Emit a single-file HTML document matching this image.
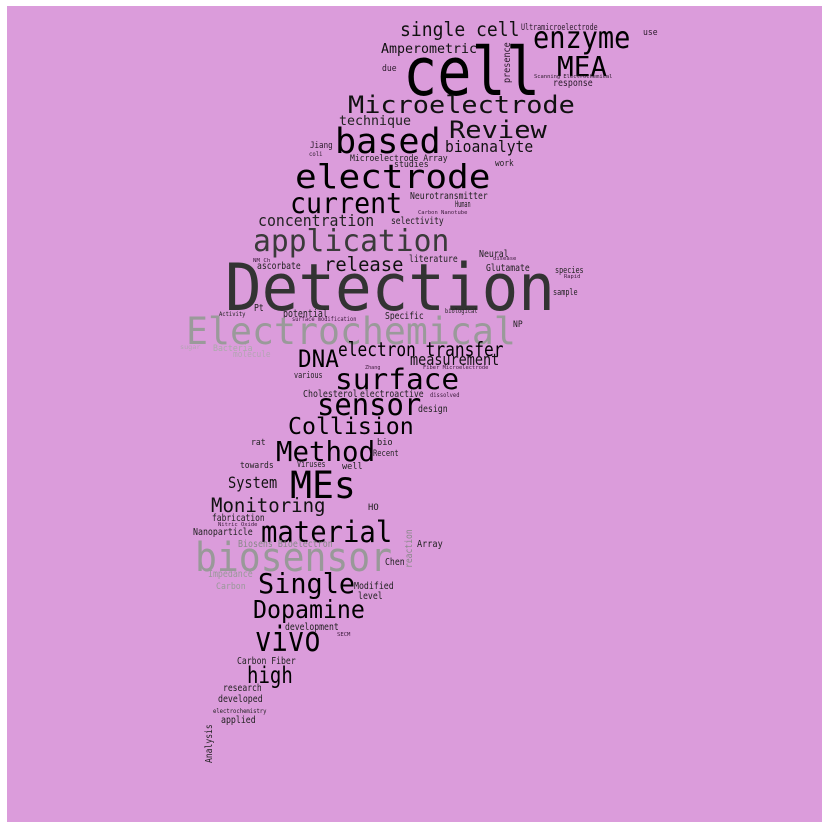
<!DOCTYPE html>
<html><head><meta charset="utf-8"><style>
html,body{margin:0;padding:0;background:#fff;width:829px;height:829px;overflow:hidden}
svg{display:block}
text{font-family:"DejaVu Sans Mono","Liberation Mono",monospace}
</style></head><body>
<svg id="cloud" width="829" height="829" viewBox="0 0 829 829" xmlns="http://www.w3.org/2000/svg">
<rect x="7" y="6" width="815" height="816" fill="#db9cdb"/>
<g id="words"></g>
</svg>
<script>
// word, font size (weight), x, baseline y, ink width, color, rotated
const words = ["cell","single cell","Ultramicroelectrode","use","enzyme","Amperometric","MEA","due","presence","Scanning Electrochemical","response","Microelectrode","technique","Review","based","bioanalyte","Jiang","coli","Microelectrode Array","studies","work","electrode","Neurotransmitter","Human","current","Carbon Nanotube","concentration","selectivity","application","Neural","disease","literature","NM Ch","release","ascorbate","Glutamate","species","Rapid","Detection","sample","Pt","Activity","potential","surface modification","Specific","biological","NP","Electrochemical","sugar","Bacteria","molecule","DNA","electron transfer","measurement","Zhang","Fiber Microelectrode","various","surface","Cholesterol","electroactive","dissolved","sensor","design","Collision","rat","bio","Method","Recent","towards","Viruses","well","System","MEs","Monitoring","HO","fabrication","Nitric Oxide","Nanoparticle","material","Biosens Bioelectron","biosensor","reaction","Array","Chen","Impedance","Single","Carbon","Modified","level","Dopamine","development","SECM","vivo","Carbon Fiber","high","research","developed","electrochemistry","applied","Analysis"];
const sizes = [64,19,8,8,29,13,26,8,9,5,9,23,13,23,33,15,8,6,8,8,8,31,9,8,27,5,15,9,29,9,5,9,5,19,9,9,8,5,62,8,9,6,10,5.5,9,6,8,36,6,8,8,23,19,15,5,5,8,27,9,9,6,29,9,22,8,8,26,8,8,8,8,15,36,19,8,9,5,9,28,9,38,9,9,9,9,26,8,9,9,24,9,5,33,9,22,9,9,6,9,9];
const xs = [403,400,521,643,533,381,557,382,510,534,553,348,339,449,335,445,310,309,350,394,495,295,410,455,290,418,258,391,253,479,493,409,253,324,257,486,555,564,225,553,254,219,283,292,385,445,513,186,180,213,233,298,338,410,365,423,294,335,303,360,430,317,418,288,251,377,276,373,240,297,342,228,290,211,368,212,218,193,261,238,195,412,417,385,208,258,216,354,358,253,285,337,255,237,247,223,218,213,221,212];
const ys = [95,36,30,35,48,53,76,71,83,78,86,113,125,138,153,152,148,156,161,167,166,188,199,207,213,214,226,224,251,257,260,262,262,271,269,271,273,278,310,295,311,316,317,321,319,313,327,344,349,351,357,367,356,365,369,369,378,389,397,397,397,415,412,434,445,445,461,456,468,467,469,488,498,512,510,521,526,535,542,547,571,568,547,565,577,593,589,589,599,618,630,636,651,664,683,691,702,713,723,763];
const widths = [132,118,76,14,95,95,48,14,40,78,39,225,71,96,103,87,22,13,97,34,18,193,77,15,110,49,115,52,194,29,23,48,17,78,43,43,28,16,325,24,9,26,44,64,38,32,9,327,20,39,37,39,164,88,15,65,28,122,54,63,29,102,29,124,14,15,97,25,33,28,20,48,63,113,10,52,39,59,129,94,194,38,25,19,44,95,29,39,24,110,53,13,63,58,44,38,44,53,34,38];
const colors = ["#000","#111","#2a1a2a","#2a1a2a","#000","#111","#000","#2a1a2a","#2a1a2a","#2a1a2a","#2a1a2a","#111","#222","#111","#000","#111","#2a1a2a","#2a1a2a","#222","#222","#222","#000","#222","#222","#000","#3a1a3a","#222","#222","#3a3a3a","#222","#3a1a3a","#222","#3a1a3a","#111","#222","#222","#222","#3a1a3a","#333","#222","#222","#222","#222","#3a1a3a","#222","#222","#222","#9a9a9a","#b4a4b4","#aaa","#b4a4b4","#000","#000","#111","#3a1a3a","#3a1a3a","#222","#000","#222","#222","#3a1a3a","#000","#222","#000","#222","#222","#000","#222","#222","#222","#222","#111","#000","#111","#222","#222","#3a1a3a","#222","#000","#888","#999","#888","#222","#222","#999","#000","#999","#222","#222","#000","#222","#3a1a3a","#000","#222","#000","#222","#222","#222","#222","#222"];
const vertical = ["presence","reaction","Analysis"];
const g = document.getElementById('words');
for (let i = 0; i < words.length; i++) {
  const t = document.createElementNS('http://www.w3.org/2000/svg', 'text');
  
  
  t.setAttribute('x', xs[i]);
  t.setAttribute('y', ys[i]);
  t.setAttribute('font-size', sizes[i] * 1.05);
  t.setAttribute('fill', colors[i]);
  t.setAttribute('textLength', widths[i] + sizes[i] * 0.08);
  t.setAttribute('lengthAdjust', 'spacingAndGlyphs');
  if (vertical.indexOf(words[i]) >= 0) {
    t.setAttribute('transform', 'rotate(-90 ' + xs[i] + ' ' + ys[i] + ')');
  }
  t.textContent = words[i];
  g.appendChild(t);
}
</script>
</body></html>
